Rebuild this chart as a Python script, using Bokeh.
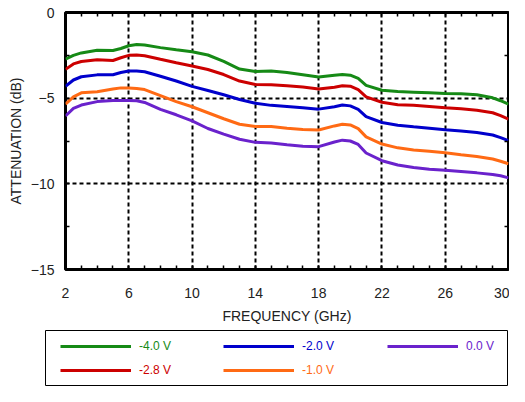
from bokeh.plotting import figure
from bokeh.models import Range1d, FixedTicker, LinearAxis, Legend, LegendItem
from bokeh.embed import file_html
from bokeh.resources import INLINE

# ---- data ----
freq_ghz = [2, 2.5, 3, 4, 5, 5.5, 6, 6.5, 7, 8, 9, 10, 11, 12, 13, 14, 15, 16, 17, 18,
            19, 19.5, 20, 20.5, 21, 22, 23, 24, 25, 26, 27, 28, 29, 29.5, 30]

att_m40 = [-2.72, -2.50, -2.36, -2.20, -2.22, -2.10, -1.94, -1.87, -1.90, -2.05, -2.18, -2.29,
           -2.48, -2.85, -3.30, -3.44, -3.42, -3.50, -3.63, -3.77, -3.66, -3.62, -3.66, -3.85,
           -4.25, -4.54, -4.61, -4.65, -4.69, -4.73, -4.74, -4.80, -4.98, -5.15, -5.35]
att_m28 = [-3.32, -3.00, -2.86, -2.76, -2.80, -2.64, -2.50, -2.48, -2.52, -2.73, -2.93, -3.12,
           -3.33, -3.62, -4.00, -4.20, -4.21, -4.27, -4.35, -4.46, -4.36, -4.28, -4.30, -4.50,
           -4.92, -5.24, -5.38, -5.42, -5.48, -5.56, -5.62, -5.70, -5.85, -6.02, -6.22]
att_m20 = [-4.31, -3.94, -3.75, -3.64, -3.63, -3.50, -3.42, -3.42, -3.46, -3.72, -4.00, -4.31,
           -4.55, -4.80, -5.08, -5.30, -5.42, -5.48, -5.56, -5.64, -5.50, -5.40, -5.45, -5.65,
           -6.08, -6.42, -6.58, -6.67, -6.75, -6.85, -6.92, -7.00, -7.15, -7.30, -7.48]
att_m10 = [-5.35, -4.92, -4.69, -4.62, -4.47, -4.40, -4.40, -4.43, -4.50, -4.85, -5.20, -5.50,
           -5.85, -6.20, -6.52, -6.65, -6.66, -6.75, -6.83, -6.86, -6.62, -6.52, -6.56, -6.78,
           -7.26, -7.68, -7.90, -8.02, -8.10, -8.19, -8.30, -8.40, -8.55, -8.68, -8.83]
att_00 = [-6.04, -5.60, -5.40, -5.20, -5.13, -5.13, -5.13, -5.15, -5.25, -5.65, -5.97, -6.33,
          -6.77, -7.10, -7.40, -7.58, -7.62, -7.72, -7.80, -7.83, -7.56, -7.45, -7.50, -7.70,
          -8.20, -8.65, -8.90, -9.05, -9.15, -9.21, -9.28, -9.36, -9.45, -9.53, -9.65]

series_labels = ["-4.0 V", "-2.8 V", "-2.0 V", "-1.0 V", "0.0 V"]
series_values = [att_m40, att_m28, att_m20, att_m10, att_00]
series_colors = ["#168a16", "#cc0000", "#0000cc", "#ff6a14", "#6a22cc"]

x_major = [2, 6, 10, 14, 18, 22, 26, 30]
x_minor = list(range(2, 31))
x_grid = [6, 10, 14, 18, 22, 26]
y_major = [0, -5, -10, -15]
y_minor = [-2.5, -7.5, -12.5]
y_grid = [-5, -10]

FONT = "Liberation Sans"

# ---- main plot ----
p = figure(width=509, height=326, x_range=Range1d(2, 30), y_range=Range1d(-15, 0),
           output_backend="svg", toolbar_location=None,
           min_border_left=65, min_border_right=1, min_border_top=12, min_border_bottom=56)
p.outline_line_color = "black"
p.outline_line_width = 3
p.background_fill_color = "white"
p.border_fill_color = "white"

for vals, col in zip(series_values, series_colors):
    p.line(freq_ghz, vals, line_color=col, line_width=3)

p.xgrid.ticker = FixedTicker(ticks=x_grid)
p.ygrid.ticker = FixedTicker(ticks=y_grid)
for g in (p.xgrid, p.ygrid):
    g.grid_line_color = "black"
    g.grid_line_width = 2
    g.grid_line_dash = "4 3"

def style_axis(ax, labels=True):
    ax.axis_line_color = None
    ax.major_tick_in = 4
    ax.major_tick_out = 0
    ax.minor_tick_in = 4
    ax.minor_tick_out = 0
    ax.major_tick_line_color = "black"
    ax.minor_tick_line_color = "black"
    ax.major_tick_line_width = 1.5
    ax.minor_tick_line_width = 1.5
    if labels:
        ax.major_label_text_font = FONT
        ax.major_label_text_font_size = "14px"
        ax.major_label_text_color = "#222222"
        ax.axis_label_text_font = FONT
        ax.axis_label_text_font_size = "14px"
        ax.axis_label_text_font_style = "normal"
        ax.axis_label_text_color = "#222222"
    else:
        ax.major_label_standoff = 0

p.xaxis.ticker = FixedTicker(ticks=x_major, minor_ticks=x_minor)
p.yaxis.ticker = FixedTicker(ticks=y_major, minor_ticks=y_minor)
style_axis(p.xaxis[0])
style_axis(p.yaxis[0])
p.xaxis.axis_label = "FREQUENCY (GHz)"
p.yaxis.axis_label = "ATTENUATION (dB)"
p.xaxis.major_label_standoff = 18
p.xaxis.axis_label_standoff = 7
p.yaxis.major_label_standoff = 11
p.yaxis.axis_label_standoff = 4

# mirrored minor ticks on the top and right edges (no labels)
top_ax = LinearAxis(ticker=FixedTicker(ticks=[], minor_ticks=x_minor))
style_axis(top_ax, labels=False)
p.add_layout(top_ax, "above")
right_ax = LinearAxis(ticker=FixedTicker(ticks=[], minor_ticks=y_minor))
style_axis(right_ax, labels=False)
p.add_layout(right_ax, "right")

# ---- legend panel (separate root below the plot) ----
p2 = figure(width=509, height=60, x_range=Range1d(0, 1), y_range=Range1d(0, 1),
            output_backend="svg", toolbar_location=None,
            x_axis_location=None, y_axis_location=None,
            min_border_left=45, min_border_right=2, min_border_top=4, min_border_bottom=1)
p2.outline_line_color = "black"
p2.outline_line_width = 1
p2.grid.visible = False
p2.border_fill_color = "white"

legend_pos = [(15, 32), (15, 8), (178, 32), (178, 8), (342, 32)]
for lab, col, loc in zip(series_labels, series_colors, legend_pos):
    rr = p2.line(x=[float("nan")], y=[float("nan")], line_color=col, line_width=3)
    leg = Legend(items=[LegendItem(label=lab, renderers=[rr])], location=loc,
                 glyph_width=71, glyph_height=12, label_height=12, label_standoff=8,
                 label_text_font=FONT, label_text_font_size="12px", label_text_color=col,
                 border_line_color=None, background_fill_alpha=0,
                 padding=0, margin=0, spacing=0)
    p2.add_layout(leg)

open("out.html", "w").write(file_html([p, p2], INLINE))
